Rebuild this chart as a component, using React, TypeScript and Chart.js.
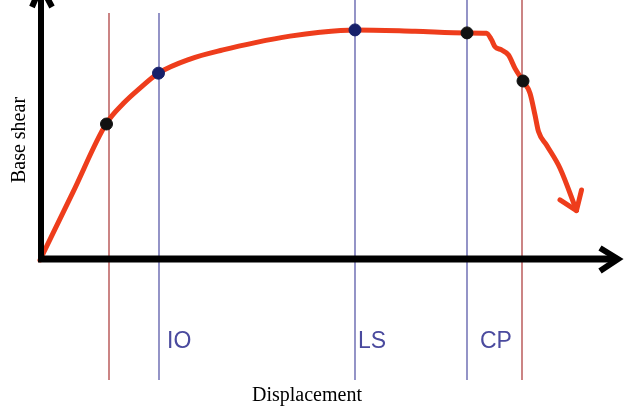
import React, { useEffect, useRef } from "react";
import { Chart, registerables } from "chart.js";

Chart.register(...registerables);

// Pushover curve (displacement, base shear) in arbitrary units
const curveDisp = [0, 6.6, 13.2, 16.7, 20, 23.7, 30, 36.6, 43.3, 50, 56, 63, 75, 85.4, 89.3, 90.3, 91, 92.3, 93.7, 95, 96.7, 98, 99, 99.7, 101.3, 104, 107.3];
const curveShear = [0, 29.5, 59.1, 68.1, 74.7, 81.2, 87.3, 91.3, 94.6, 97.3, 99, 100, 99.4, 98.7, 98.6, 95.7, 92.7, 91.3, 89.1, 83.3, 77.5, 72.5, 63, 55.8, 50, 39.9, 21.5];

// Arrow head at the end of the curve
const arrowDisp = [104, 107.3, 108.3];
const arrowShear = [26.1, 21.5, 30.4];

// Marked performance points
const pointDisp = [13.3, 23.7, 63, 85.4, 96.6];
const pointShear = [59.1, 81.2, 100, 98.7, 77.8];
const pointColors = ["#111111", "#16206a", "#16206a", "#111111", "#111111"];

// Vertical limit lines
const limitDisp = [13.8, 23.8, 63, 85.4, 96.4];
const limitTop = [107.4, 107.4, 113, 113, 113];
const limitBottom = [-52.2, -52.2, -52.2, -52.2, -52.2];
const limitColors = ["#a83232", "#4c4ca2", "#4c4ca2", "#4c4ca2", "#a83232"];

// Performance level labels
const levelLabels = ["IO", "LS", "CP"];
const levelDisp = [23.8, 63, 85.4];
const levelOffsets = [8, 3, 13];
const levelShear = -38.3;

const xMin = -8;
const xMax = 118;
const yMin = -65.2;
const yMax = 113;

const axesPlugin = {
  id: "pushoverAxes",
  afterDatasetsDraw(chart: any) {
    const ctx = chart.ctx;
    const xs = chart.scales.x;
    const ys = chart.scales.y;
    const ox = xs.getPixelForValue(0) + 1;
    const oy = ys.getPixelForValue(0) - 1;
    ctx.save();
    ctx.strokeStyle = "#000";
    ctx.lineWidth = 6;
    ctx.lineCap = "butt";
    // y axis
    ctx.beginPath();
    ctx.moveTo(ox, oy + 3);
    ctx.lineTo(ox, -10);
    ctx.stroke();
    ctx.beginPath();
    ctx.moveTo(ox - 9, 7);
    ctx.lineTo(ox, -14);
    ctx.lineTo(ox + 11, 7);
    ctx.stroke();
    // x axis
    ctx.lineWidth = 7;
    ctx.beginPath();
    ctx.moveTo(ox - 3, oy);
    ctx.lineTo(614, oy);
    ctx.stroke();
    ctx.lineWidth = 6;
    ctx.lineJoin = "miter";
    ctx.beginPath();
    ctx.moveTo(600, oy - 11);
    ctx.lineTo(618, oy);
    ctx.lineTo(600, oy + 12);
    ctx.stroke();

    // level labels
    ctx.fillStyle = "#4a4a9e";
    ctx.font = "23px 'Liberation Sans', Arial, sans-serif";
    ctx.textBaseline = "alphabetic";
    ctx.textAlign = "left";
    levelLabels.forEach((t, i) => {
      ctx.fillText(t, xs.getPixelForValue(levelDisp[i]) + levelOffsets[i], ys.getPixelForValue(levelShear));
    });

    // axis titles
    ctx.fillStyle = "#000";
    ctx.font = "20px 'Liberation Serif', 'Times New Roman', serif";
    ctx.textAlign = "center";
    ctx.fillText("Displacement", 307, 401);
    ctx.translate(25, 140);
    ctx.rotate(-Math.PI / 2);
    ctx.fillText("Base shear", 0, 0);
    ctx.restore();
  },
};

export default function App() {
  const ref = useRef<HTMLCanvasElement | null>(null);

  useEffect(() => {
    document.body.style.margin = "0";
    const canvas = ref.current;
    if (!canvas) return;

    const limitSets = limitDisp.map((d, i) => ({
      type: "line" as const,
      data: [
        { x: d, y: limitBottom[i] },
        { x: d, y: limitTop[i] },
      ],
      borderColor: limitColors[i],
      borderWidth: 1.2,
      pointRadius: 0,
      tension: 0,
      order: 5,
    }));

    const chart = new Chart(canvas, {
      type: "line",
      data: {
        datasets: [
          ...limitSets,
          {
            type: "line",
            data: curveDisp.map((d, i) => ({ x: d, y: curveShear[i] })),
            borderColor: "#ee3d1c",
            borderWidth: 5,
            pointRadius: 0,
            cubicInterpolationMode: "monotone",
            borderCapStyle: "round",
            borderJoinStyle: "round",
            order: 2,
          },
          {
            type: "line",
            data: arrowDisp.map((d, i) => ({ x: d, y: arrowShear[i] })),
            borderColor: "#ee3d1c",
            borderWidth: 5,
            pointRadius: 0,
            tension: 0,
            borderCapStyle: "round",
            borderJoinStyle: "round",
            order: 2,
          },
          {
            type: "scatter",
            data: pointDisp.map((d, i) => ({ x: d, y: pointShear[i] })),
            backgroundColor: pointColors,
            borderColor: pointColors,
            pointRadius: 6,
            order: 1,
          },
        ] as any,
      },
      options: {
        animation: false,
        responsive: true,
        maintainAspectRatio: false,
        layout: { padding: 0, autoPadding: false },
        plugins: { legend: { display: false }, tooltip: { enabled: false } },
        scales: {
          x: { type: "linear", min: xMin, max: xMax, display: false },
          y: { type: "linear", min: yMin, max: yMax, display: false },
        },
      },
      plugins: [axesPlugin],
    });
    return () => chart.destroy();
  }, []);

  return (
    <div style={{ width: 630, height: 410, position: "relative", background: "#fff" }}>
      <canvas ref={ref} />
    </div>
  );
}
